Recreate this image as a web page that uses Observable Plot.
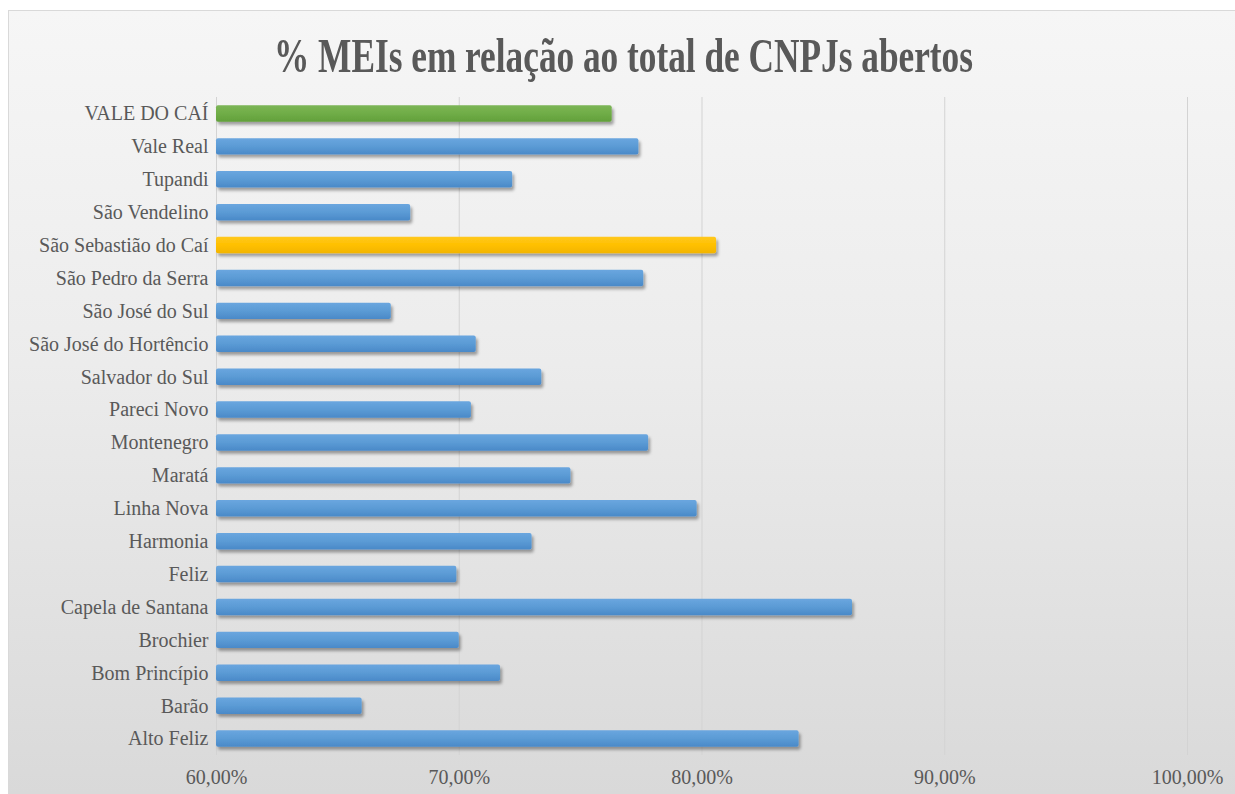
<!DOCTYPE html>
<html>
<head>
<meta charset="utf-8">
<script src="https://cdn.jsdelivr.net/npm/d3@7"></script>
<script src="https://cdn.jsdelivr.net/npm/@observablehq/plot@0.6"></script>
<style>
  html, body { margin: 0; padding: 0; background: #ffffff; overflow: hidden; }
  #frame {
    position: absolute; left: 8px; top: 10px; width: 1226px; height: 783px;
    border: 1px solid #d9d9d9;
    background: linear-gradient(to bottom, #f6f6f6 0%, #ececec 45%, #d9d9d9 100%);
  }
  #wrap { position: relative; width: 1235px; height: 794px; }
  #title { position: relative; height: 90px; }
  #title span {
    position: absolute; left: 6px; right: -6px; top: 28px; text-align: center;
    font-family: "Liberation Serif", "Times New Roman", serif; font-weight: bold;
    font-size: 48px; line-height: 56px; color: #595959;
    transform: scaleX(0.735); transform-origin: 50% 0; white-space: nowrap;
  }
  #chart { position: relative; height: 704px; }
  #chart svg { display: block; }
  #chart svg text { font-family: "Liberation Serif", "Times New Roman", serif !important; }
</style>
</head>
<body>
<div id="wrap">
  <div id="frame"></div>
  <div id="title"><span>% MEIs em relação ao total de CNPJs abertos</span></div>
  <div id="chart"></div>
</div>
<script>
const municipios = [
  "VALE DO CAÍ", "Vale Real", "Tupandi", "São Vendelino", "São Sebastião do Caí",
  "São Pedro da Serra", "São José do Sul", "São José do Hortêncio", "Salvador do Sul",
  "Pareci Novo", "Montenegro", "Maratá", "Linha Nova", "Harmonia", "Feliz",
  "Capela de Santana", "Brochier", "Bom Princípio", "Barão", "Alto Feliz"
];
const percentuais = [
  76.3, 77.4, 72.2, 68.0, 80.6,
  77.6, 67.2, 70.7, 73.4,
  70.5, 77.8, 74.6, 79.8, 73.0, 69.9,
  86.2, 70.0, 71.7, 66.0, 84.0
];
const xTicks = [60, 70, 80, 90, 100];
const regiao = "VALE DO CAÍ";
const destaque = "São Sebastião do Caí";

const data = municipios.map((m, i) => ({ municipio: m, pct: percentuais[i] }));
const fmt = d => d.toFixed(2).replace(".", ",") + "%";
const serif = "'Liberation Serif', 'Times New Roman', serif";

const plot = Plot.plot({
  width: 1235,
  height: 704,
  marginLeft: 216,
  marginRight: 48,
  marginTop: 7,
  marginBottom: 39,
  style: { background: "transparent", fontFamily: serif, fontSize: "20px", color: "#595959" },
  x: { domain: [60, 100], ticks: xTicks, tickFormat: fmt, label: null },
  y: { domain: municipios, paddingInner: 0.5, paddingOuter: 0.25, round: false, label: null },
  marks: [
    Plot.gridX(xTicks, { stroke: "#d3d3d3", strokeOpacity: 1, strokeWidth: 1 }),
    Plot.barX(data.filter(d => d.municipio !== regiao && d.municipio !== destaque),
      { x1: 60, x2: "pct", y: "municipio", fill: "#5b9bd5", rx: 2, className: "bar-blue" }),
    Plot.barX(data.filter(d => d.municipio === regiao),
      { x1: 60, x2: "pct", y: "municipio", fill: "#70ad47", rx: 2, className: "bar-green" }),
    Plot.barX(data.filter(d => d.municipio === destaque),
      { x1: 60, x2: "pct", y: "municipio", fill: "#ffc000", rx: 2, className: "bar-yellow" }),
    Plot.axisX({ ticks: xTicks, tickFormat: fmt, tickSize: 0, tickPadding: 14, fill: "#595959", fontSize: 20, label: null }),
    Plot.axisY({ tickSize: 0, tickPadding: 8, fill: "#595959", fontSize: 20, label: null })
  ]
});

const svg = d3.select(plot);
svg.selectAll("text").attr("font-family", serif);
const defs = svg.insert("defs", ":first-child");
const f = defs.append("filter").attr("id", "shadow").attr("x", "-5%").attr("y", "-50%").attr("width", "110%").attr("height", "220%");
f.append("feDropShadow").attr("dx", 2).attr("dy", 3).attr("stdDeviation", 1.8).attr("flood-color", "#000").attr("flood-opacity", 0.35);
function grad(id, top, mid, bottom) {
  const g = defs.append("linearGradient").attr("id", id).attr("x1", 0).attr("y1", 0).attr("x2", 0).attr("y2", 1);
  g.append("stop").attr("offset", "0%").attr("stop-color", top);
  g.append("stop").attr("offset", "50%").attr("stop-color", mid);
  g.append("stop").attr("offset", "100%").attr("stop-color", bottom);
}
grad("gBlue", "#6aa6df", "#5b9bd5", "#4a89c8");
grad("gGreen", "#7cb556", "#70ad47", "#62a03b");
grad("gYellow", "#ffc81f", "#ffc000", "#f2b400");
svg.selectAll("g[aria-label='bar']").attr("filter", "url(#shadow)");
svg.selectAll("g.bar-blue rect").attr("fill", "url(#gBlue)");
svg.selectAll("g.bar-green rect").attr("fill", "url(#gGreen)");
svg.selectAll("g.bar-yellow rect").attr("fill", "url(#gYellow)");

document.getElementById("chart").appendChild(plot);
</script>
</body>
</html>
